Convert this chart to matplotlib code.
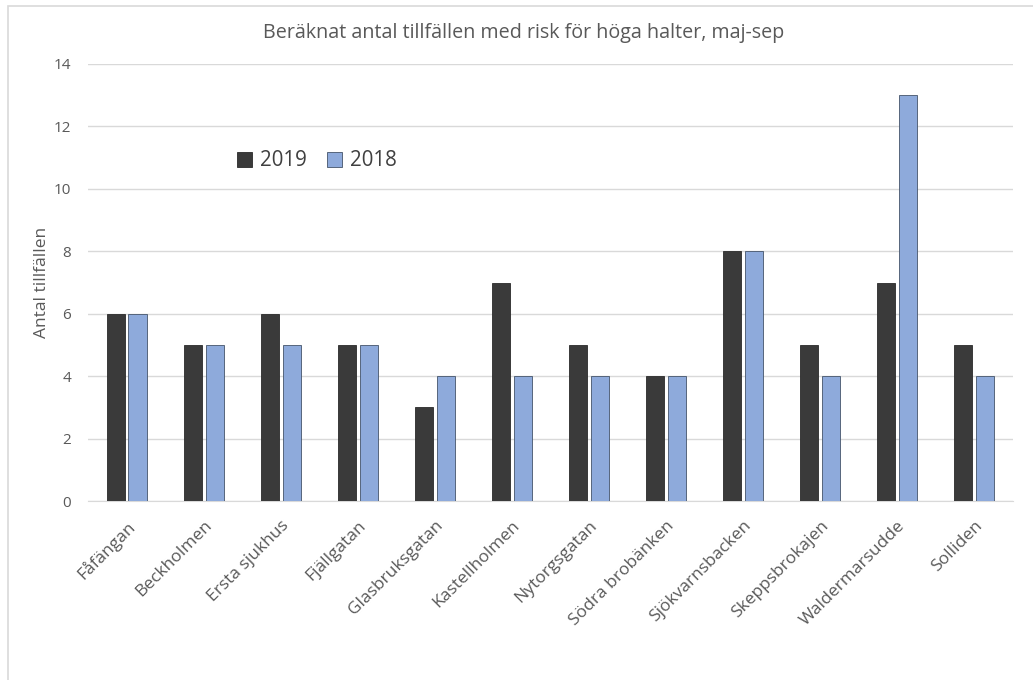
import numpy as np
from matplotlib import pyplot as plt
from matplotlib.patches import Rectangle

# Data
platser = ['Fåfängan', 'Beckholmen', 'Ersta sjukhus', 'Fjällgatan', 'Glasbruksgatan',
           'Kastellholmen', 'Nytorgsgatan', 'Södra brobänken', 'Sjökvarnsbacken',
           'Skeppsbrokajen', 'Waldermarsudde', 'Solliden']
antal_2019 = [6, 5, 6, 5, 3, 7, 5, 4, 8, 5, 7, 5]
antal_2018 = [6, 5, 5, 5, 4, 4, 4, 4, 8, 4, 13, 4]
yticks = [0, 2, 4, 6, 8, 10, 12, 14]

plt.rcParams['font.family'] = ['Open Sans', 'DejaVu Sans']

fig = plt.figure(figsize=(10.33, 6.8), dpi=100)
ax = fig.add_axes([0.0852, 0.2632, 0.8954, 0.6427])

# Outer chart frame like in Excel
fig.patches.append(Rectangle((8 / 1033, -0.01), 1.1, 1 - 6 / 680 + 0.01,
                             transform=fig.transFigure, fill=False,
                             edgecolor='#d9d9d9', linewidth=1.2))

x = np.arange(len(platser))
w = 0.235
ax.bar(x - w / 2 - 0.025, antal_2019, w, color='#3a3a3a', edgecolor='#2a2a2a',
       linewidth=0.6, label='2019', zorder=3)
ax.bar(x + w / 2 + 0.025, antal_2018, w, color='#8eaadb', edgecolor='#44546a',
       linewidth=0.6, label='2018', zorder=3)

ax.set_xlim(-0.5, len(platser) - 0.5)
ax.set_ylim(0, 14)
ax.set_yticks(yticks)
ax.grid(axis='y', color='#d9d9d9', linewidth=1, zorder=0)
for s in ['top', 'right', 'left']:
    ax.spines[s].set_visible(False)
ax.spines['bottom'].set_color('#d9d9d9')
ax.tick_params(axis='both', length=0, colors='#595959')
ax.tick_params(axis='y', pad=12, labelsize=11)

ax.set_xticks(x)
ax.set_xticklabels(platser, rotation=45, ha='right', rotation_mode='anchor',
                   fontsize=12.5, color='#595959')
ax.tick_params(axis='x', pad=12)

ax.set_ylabel('Antal tillfällen', fontsize=12.5, color='#595959', labelpad=3)
fig.text(0.5065, 0.951, 'Beräknat antal tillfällen med risk för höga halter, maj-sep',
         ha='center', va='center', fontsize=14.2, color='#595959')

leg = ax.legend(loc='upper left', bbox_to_anchor=(0.141, 0.845), ncol=2, frameon=False,
                fontsize=14.8, handlelength=0.75, handleheight=0.75, handletextpad=0.35,
                columnspacing=1.0, labelcolor='#404040')

plt.savefig('out.png', dpi=100)
